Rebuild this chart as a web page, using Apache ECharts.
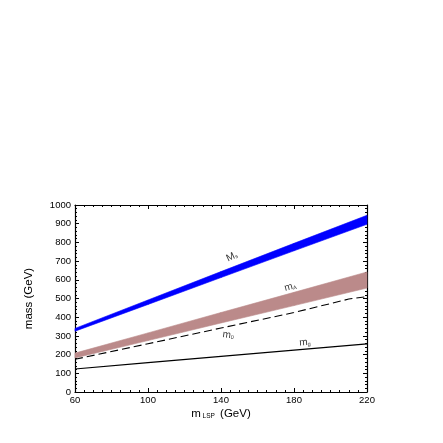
<!DOCTYPE html>
<html><head><meta charset="utf-8">
<script src="https://cdn.jsdelivr.net/npm/echarts@6/dist/echarts.min.js"></script>
<style>html,body{margin:0;padding:0;background:#fff}#c{width:443px;height:443px}</style>
</head><body><div id="c"></div>
<script>
var xs = [60, 100, 140, 180, 220];
var msLower = [325, 468, 612, 755, 897];
var msUpper = [340, 492, 644, 795, 945];
var mALower = [182, 275, 369, 462, 556];
var mAUpper = [208, 316, 425, 533, 642];
var dashX = [60, 100, 140, 180, 210, 220];
var dashY = [175, 258, 342, 425, 497, 510];
var solidY = [123, 157, 191, 224, 257];
var labels = [
  {x: 146, y: 724, main: 'M', sub: 's', rot: 25},
  {x: 178, y: 562, main: 'm', sub: 'A', rot: 15},
  {x: 144, y: 305, main: 'm', sub: '0', rot: -8},
  {x: 186, y: 265, main: 'm', sub: 'g', rot: 4}
];

function pairs(a, b) { return a.map(function (v, i) { return [v, b[i]]; }); }
function bandData(lo, hi) { return xs.map(function (x, i) { return [x, lo[i], hi[i]]; }); }
function bandSeries(lo, hi, color) {
  var d = bandData(lo, hi);
  return {
    type: 'custom', data: d, z: 2, silent: true,
    encode: {x: 0, y: [1, 2]},
    renderItem: function (params, api) {
      var i = params.dataIndex;
      if (i >= d.length - 1) return null;
      var a = d[i], b = d[i + 1];
      var pts = [api.coord([a[0], a[1]]), api.coord([b[0], b[1]]), api.coord([b[0], b[2]]), api.coord([a[0], a[2]])];
      return {type: 'polygon', shape: {points: pts}, style: {fill: color, stroke: color, lineWidth: 0.6}};
    }
  };
}

var font = 'Liberation Sans, Arial, sans-serif';
var chart = echarts.init(document.getElementById('c'));
function axis(extra) {
  return Object.assign({
    type: 'value',
    axisLine: {show: true, onZero: false, lineStyle: {color: '#000', width: 1.2}},
    axisTick: {show: true, inside: true, length: 4, lineStyle: {color: '#000'}},
    splitLine: {show: false},
    axisLabel: {show: false}
  }, extra);
}
var lab = {color: '#000', fontSize: 9.5, fontFamily: font};
chart.setOption({
  animation: false,
  grid: {left: 75, right: 76, top: 205, bottom: 51},
  xAxis: [
    axis({min: 60, max: 220, interval: 40, position: 'bottom',
      minorTick: {show: true, splitNumber: 8, length: 2, lineStyle: {color: '#000'}},
      axisLabel: Object.assign({show: true, margin: 3}, lab),
      name: '{a|m}{b| LSP}{a| (GeV)}', nameLocation: 'middle', nameGap: 15,
      nameTextStyle: {rich: {a: {fontSize: 11.5, fontFamily: font, color: '#000'}, b: {fontSize: 6.5, fontFamily: font, color: '#000', padding: [6, 2, 0, 0]}}}}),
    axis({min: 60, max: 220, interval: 40, position: 'top',
      minorTick: {show: true, splitNumber: 8, length: 2, lineStyle: {color: '#000'}}})
  ],
  yAxis: [
    axis({min: 0, max: 1000, interval: 100, position: 'left',
      minorTick: {show: true, splitNumber: 5, length: 2, lineStyle: {color: '#000'}},
      axisLabel: Object.assign({show: true, margin: 4, formatter: function (v) { return String(v); }}, lab),
      name: 'mass (GeV)', nameLocation: 'middle', nameGap: 40, nameRotate: 90,
      nameTextStyle: {fontSize: 11.5, fontFamily: font, color: '#000'}}),
    axis({min: 0, max: 1000, interval: 100, position: 'right',
      minorTick: {show: true, splitNumber: 5, length: 2, lineStyle: {color: '#000'}}})
  ],
  series: [
    bandSeries(msLower, msUpper, '#0000ff'),
    bandSeries(mALower, mAUpper, '#bb8a8a'),
    {type: 'line', data: pairs(dashX, dashY), symbol: 'none', lineStyle: {width: 1.1, color: '#000', type: [8, 4]}, z: 3},
    {type: 'line', data: pairs(xs, solidY), symbol: 'none', lineStyle: {width: 1.2, color: '#000'}, z: 3},
    {type: 'scatter', symbolSize: 0, z: 5, silent: true,
      data: labels.map(function (l) {
        return {value: [l.x, l.y], label: {show: true, position: 'inside', rotate: l.rot,
          formatter: '{m|' + l.main + '}{s|' + l.sub + '}'}};
      }),
      label: {rich: {m: {fontSize: 10, fontFamily: font, color: '#000'}, s: {fontSize: 5.5, fontFamily: font, color: '#000', padding: [4, 0, 0, 0]}}}}
  ]
});
</script></body></html>
